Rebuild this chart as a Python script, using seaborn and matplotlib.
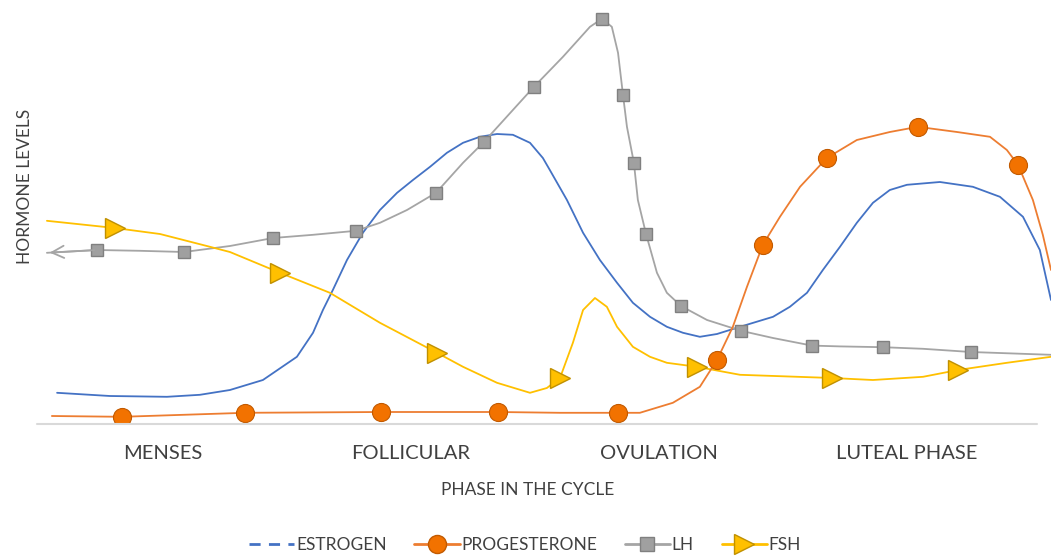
import matplotlib
matplotlib.use("Agg")
import matplotlib.pyplot as plt
from matplotlib.lines import Line2D
import seaborn as sns

# phases shown on the x axis (x runs 0..4, one unit per phase)
phases = ["MENSES", "FOLLICULAR", "OVULATION", "LUTEAL PHASE"]
phase_pos = [0.5, 1.5, 2.5, 3.5]

# values (x in phase units, y in relative hormone level)
estrogen_x = [0.073, 0.286, 0.516, 0.649, 0.770, 0.903, 1.040, 1.105, 1.145, 1.185,
              1.242, 1.306, 1.375, 1.444, 1.508, 1.577, 1.645, 1.710, 1.778, 1.847,
              1.911, 1.980, 2.032, 2.060, 2.129, 2.194, 2.262, 2.331, 2.395, 2.464,
              2.532, 2.597, 2.665, 2.734, 2.827, 2.960, 3.028, 3.097, 3.161, 3.230,
              3.298, 3.363, 3.431, 3.500, 3.633, 3.766, 3.875, 3.968, 4.036, 4.081]
estrogen_y = [7.8, 7.0, 6.8, 7.3, 8.5, 11.0, 16.8, 22.8, 28.5, 33.5,
              41.0, 47.8, 53.5, 57.8, 61.0, 64.3, 67.8, 70.3, 71.8, 72.5,
              72.3, 70.3, 66.5, 63.5, 56.0, 47.8, 41.0, 35.3, 30.3, 26.8,
              24.3, 22.8, 21.8, 22.5, 24.3, 26.8, 29.3, 32.8, 38.5, 44.3,
              50.3, 55.3, 58.5, 59.8, 60.5, 59.3, 56.8, 51.8, 43.5, 31.0]

prog_x = [0.052, 0.335, 0.831, 1.379, 1.851, 2.101, 2.335, 2.423, 2.556, 2.665,
          2.734, 2.798, 2.855, 2.919, 2.988, 3.069, 3.177, 3.298, 3.431, 3.544,
          3.702, 3.835, 3.903, 3.948, 4.008, 4.048, 4.081]
prog_y = [2.0, 1.8, 2.8, 3.0, 3.0, 2.8, 2.8, 2.8, 5.3, 9.3,
          16.0, 24.3, 34.3, 44.8, 51.8, 59.3, 66.5, 71.0, 73.0, 74.3,
          73.0, 71.8, 68.5, 64.8, 56.0, 47.3, 38.5]
prog_marks = [1, 2, 3, 4, 6, 10, 13, 16, 19, 23]

lh_x = [0.032, 0.234, 0.407, 0.585, 0.770, 0.944, 1.105, 1.278, 1.375, 1.484,
        1.601, 1.710, 1.794, 1.911, 1.996, 2.113, 2.222, 2.270, 2.310, 2.335,
        2.355, 2.371, 2.399, 2.415, 2.448, 2.492, 2.532, 2.589, 2.694, 2.831,
        2.960, 3.117, 3.230, 3.403, 3.565, 3.758, 4.081]
lh_y = [42.8, 43.5, 43.3, 43.0, 44.5, 46.5, 47.3, 48.3, 50.3, 53.5,
        57.8, 65.3, 70.5, 78.5, 84.3, 91.8, 99.3, 101.3, 99.3, 92.8,
        82.3, 74.3, 65.3, 56.0, 47.5, 37.8, 32.8, 29.5, 26.0, 23.3,
        21.5, 19.6, 19.4, 19.2, 18.8, 18.0, 17.3]
lh_marks = [1, 3, 5, 7, 10, 12, 14, 17, 20, 22, 24, 27, 29, 31, 33, 35]

fsh_x = [0.032, 0.306, 0.488, 0.677, 0.770, 0.972, 1.173, 1.375, 1.605, 1.710,
         1.847, 1.980, 2.048, 2.101, 2.153, 2.194, 2.242, 2.290, 2.331, 2.395,
         2.464, 2.532, 2.653, 2.827, 3.198, 3.363, 3.565, 3.706, 3.903, 4.081]
fsh_y = [50.8, 49.0, 47.5, 44.5, 43.0, 37.8, 32.8, 25.3, 17.8, 14.3,
         10.3, 7.8, 9.0, 11.5, 20.3, 28.5, 31.5, 29.3, 24.3, 19.3,
         16.8, 15.3, 14.3, 12.3, 11.5, 11.0, 11.8, 13.5, 15.3, 16.8]
fsh_marks = [1, 5, 8, 13, 22, 24, 27]

BLUE = "#4472C4"
ORANGE = "#ED7D31"
ORANGE_DOT = "#F27200"
GREY = "#A5A5A5"
YELLOW = "#FFC000"

sns.set_theme(style="white")
plt.rcParams["font.family"] = ["Lato", "DejaVu Sans"]

fig = plt.figure(figsize=(10.51, 5.58), dpi=100)
ax = fig.add_axes([37 / 1051, 134 / 558, 1014 / 1051, 424 / 558])

sns.lineplot(x=estrogen_x, y=estrogen_y, ax=ax, color=BLUE, lw=1.3, sort=False)
sns.lineplot(x=lh_x, y=lh_y, ax=ax, color=GREY, lw=1.3, sort=False,
             marker="s", markevery=lh_marks, markersize=9,
             markerfacecolor="#A0A0A0", markeredgecolor="#808080", markeredgewidth=1)
sns.lineplot(x=fsh_x, y=fsh_y, ax=ax, color=YELLOW, lw=1.3, sort=False,
             marker=">", markevery=fsh_marks, markersize=15,
             markerfacecolor=YELLOW, markeredgecolor="#C09000", markeredgewidth=1)
sns.lineplot(x=prog_x, y=prog_y, ax=ax, color=ORANGE, lw=1.3, sort=False,
             marker="o", markevery=prog_marks, markersize=13,
             markerfacecolor=ORANGE_DOT, markeredgecolor="#C25A00", markeredgewidth=0.8)

# open arrow head at the start of the LH line
ax.annotate("", xy=(lh_x[0], lh_y[0]), xytext=(lh_x[1], lh_y[1]),
            arrowprops=dict(arrowstyle="->", color=GREY, lw=1.3, mutation_scale=22))

ax.set_xlim(-0.008, 4.081)
ax.set_ylim(0, 106)
for s in ax.spines.values():
    s.set_visible(False)
ax.axhline(0, xmin=0, xmax=1000 / 1014, color="#D9D9D9", lw=1.5, clip_on=False)

ax.set_xticks(phase_pos)
ax.set_xticklabels(phases, fontsize=14.5, color="#404040")
ax.tick_params(axis="x", length=0, pad=15)
ax.set_yticks([])
ax.set_xlabel("")
ax.set_ylabel("")

fig.text(528 / 1051, 1 - 490 / 558, "PHASE IN THE CYCLE", ha="center", va="center",
         fontsize=12.5, color="#404040")
fig.text(25 / 1051, 1 - 186 / 558, "HORMONE LEVELS", ha="center", va="center",
         rotation=90, fontsize=12.5, color="#404040")

handles = [
    Line2D([], [], color=BLUE, lw=2, linestyle=(0, (4, 3))),
    Line2D([], [], color=ORANGE, lw=2, marker="o", markersize=13,
           markerfacecolor=ORANGE_DOT, markeredgecolor="#C25A00"),
    Line2D([], [], color=GREY, lw=2, marker="s", markersize=10,
           markerfacecolor="#A0A0A0", markeredgecolor="#808080"),
    Line2D([], [], color=YELLOW, lw=2, marker=">", markersize=14,
           markerfacecolor=YELLOW, markeredgecolor="#C09000"),
]
fig.legend(handles, ["ESTROGEN", "PROGESTERONE", "LH", "FSH"], loc="center",
           bbox_to_anchor=(525 / 1051, 1 - 545 / 558), ncol=4, frameon=False,
           fontsize=12.5, handlelength=2.6, handletextpad=0.1, columnspacing=1.6,
           labelcolor="#404040")

fig.savefig("out.png", dpi=100)
